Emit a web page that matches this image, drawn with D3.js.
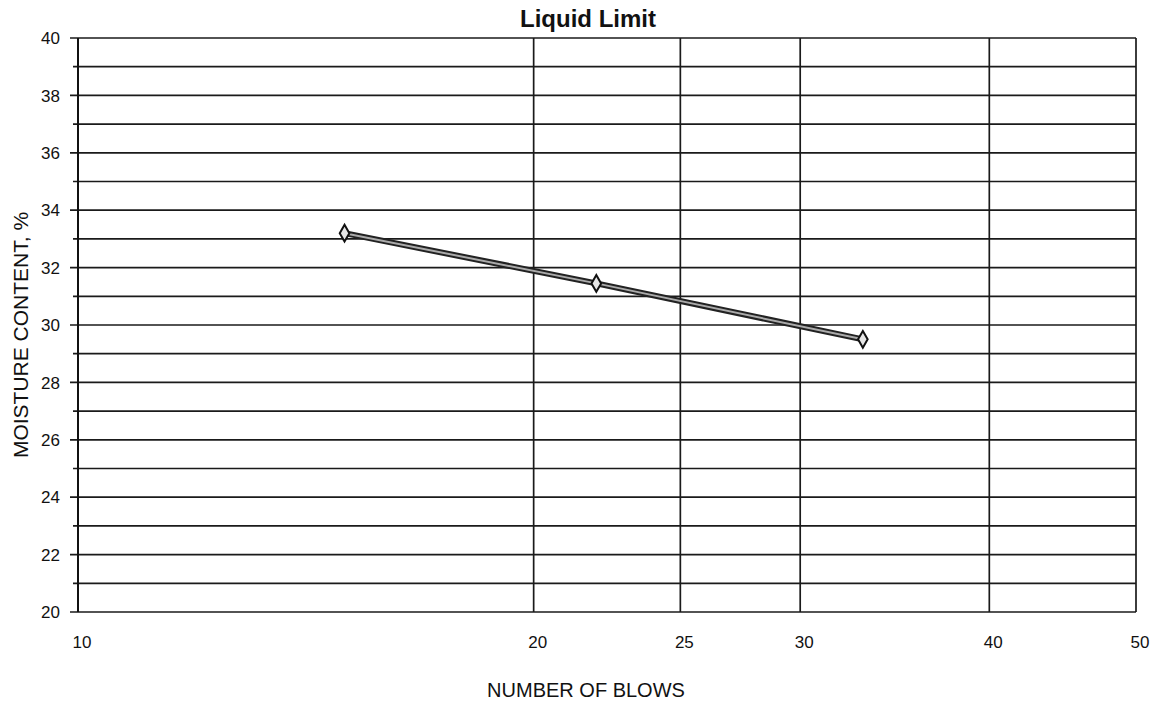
<!DOCTYPE html>
<meta charset="utf-8">
<style>
body { margin: 0; background: #fff; }
text { font-family: "Liberation Sans", Arial, sans-serif; fill: #111; }
.grid line { stroke: #1a1a1a; stroke-width: 1.7; }
</style>
<svg width="1154" height="705"></svg>
<script src="https://d3js.org/d3.v7.min.js"></script>
<script>

// blows vs moisture content
var blows = [15, 22, 33];
var moisture = [33.2, 31.45, 29.5];
var xTicks = [10, 20, 25, 30, 40, 50];
var yTicks = [20, 22, 24, 26, 28, 30, 32, 34, 36, 38, 40];

var margin = {top: 38, right: 18, bottom: 93, left: 78};
var width = 1154 - margin.left - margin.right,
    height = 705 - margin.top - margin.bottom;

var svg = d3.select("svg");
var g = svg.append("g")
    .attr("transform", "translate(" + margin.left + "," + margin.top + ")");

var x = d3.scaleLog().domain([10, 50]).range([0, width]);
var y = d3.scaleLinear().domain([20, 40]).range([height, 0]);

// horizontal grid, every 1 %
g.append("g").attr("class", "grid")
  .selectAll("line")
  .data(d3.range(20, 41))
  .enter().append("line")
    .attr("x1", function(d) { return d % 2 == 0 ? -8 : -5; })
    .attr("x2", width)
    .attr("y1", function(d) { return y(d); })
    .attr("y2", function(d) { return y(d); });

// vertical grid
g.append("g").attr("class", "grid")
  .selectAll("line")
  .data(xTicks)
  .enter().append("line")
    .attr("x1", function(d) { return x(d); })
    .attr("x2", function(d) { return x(d); })
    .attr("y1", 0)
    .attr("y2", height);

// y labels
g.selectAll(".ylab")
  .data(yTicks)
  .enter().append("text")
    .attr("class", "ylab")
    .attr("x", -18)
    .attr("y", function(d) { return y(d); })
    .attr("dy", "0.36em")
    .attr("text-anchor", "end")
    .style("font-size", "17px")
    .text(function(d) { return d; });

// x labels
g.selectAll(".xlab")
  .data(xTicks)
  .enter().append("text")
    .attr("class", "xlab")
    .attr("x", function(d) { return x(d) + 4; })
    .attr("y", height + 36)
    .attr("text-anchor", "middle")
    .style("font-size", "17px")
    .text(function(d) { return d; });

var pts = blows.map(function(b, i) { return [b, moisture[i]]; });

var line = d3.line()
    .x(function(d) { return x(d[0]); })
    .y(function(d) { return y(d[1]); });

g.append("path")
    .datum(pts)
    .attr("d", line)
    .attr("fill", "none")
    .attr("stroke", "#222")
    .attr("stroke-width", 6);

g.append("path")
    .datum(pts)
    .attr("d", line)
    .attr("fill", "none")
    .attr("stroke", "#aaa")
    .attr("stroke-width", 2);

g.selectAll(".pt")
  .data(pts)
  .enter().append("path")
    .attr("class", "pt")
    .attr("transform", function(d) { return "translate(" + x(d[0]) + "," + y(d[1]) + ")"; })
    .attr("d", d3.symbol().type(d3.symbolDiamond).size(80))
    .attr("fill", "#e6e6e6")
    .attr("stroke", "#111")
    .attr("stroke-width", 2);

// axis line
g.append("line")
    .attr("x1", 0).attr("x2", 0).attr("y1", 0).attr("y2", height)
    .attr("stroke", "#111").attr("stroke-width", 2);

svg.append("text")
    .attr("x", 588)
    .attr("y", 27)
    .attr("text-anchor", "middle")
    .style("font-size", "24px")
    .style("font-weight", "bold")
    .text("Liquid Limit");

svg.append("text")
    .attr("transform", "translate(28,335) rotate(-90)")
    .attr("text-anchor", "middle")
    .style("font-size", "21px")
    .text("MOISTURE CONTENT, %");

svg.append("text")
    .attr("x", 586)
    .attr("y", 697)
    .attr("text-anchor", "middle")
    .style("font-size", "20px")
    .text("NUMBER OF BLOWS");

</script>
